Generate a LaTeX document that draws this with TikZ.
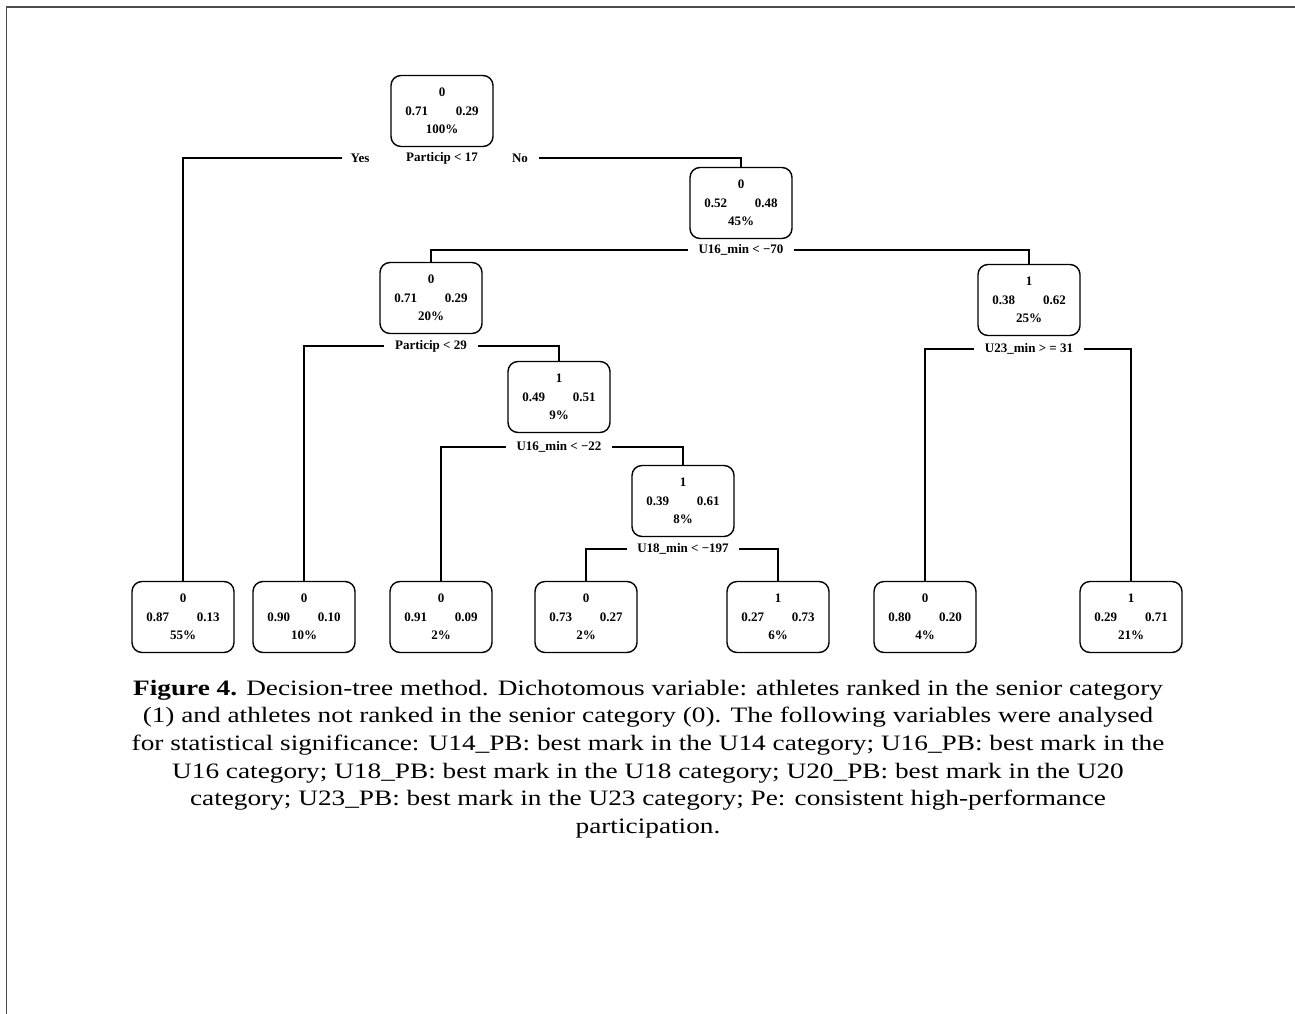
\documentclass[tikz,border=0pt]{standalone}
\usepackage{fontspec}
\setmainfont{Liberation Serif}
\newfontfamily\captionfont[FakeStretch=1.24]{Liberation Serif}
\usetikzlibrary{positioning}

\newcommand{\nodestats}[4]{#1\\#2\hspace{28pt}#3\\#4\%}

\begin{document}
\begin{tikzpicture}[x=1pt, y=-1pt, on grid, line width=1.4pt,
    box/.style={draw, rounded corners=10pt, minimum width=102pt, minimum height=71pt,
      inner sep=0pt, align=center, font=\fontsize{13}{18.5}\selectfont\bfseries},
    split/.style={inner xsep=10pt, inner ysep=2pt, font=\fontsize{13}{14}\selectfont\bfseries}]
    \useasboundingbox (0,0) rectangle (1295,1014);
    \draw[black!70, line width=1.5pt] (1295,7) -- (6.5,7) -- (6.5,1014);

    % inner nodes
    \node[box] (root) at (442,111) {\nodestats{0}{0.71}{0.29}{100}};
    \node[box, below right=92pt and 299pt of root] (n2) {\nodestats{0}{0.52}{0.48}{45}};
    \node[box, below left=95pt and 310pt of n2] (n3) {\nodestats{0}{0.71}{0.29}{20}};
    \node[box, below right=97pt and 288pt of n2] (n4) {\nodestats{1}{0.38}{0.62}{25}};
    \node[box, below right=99pt and 128pt of n3] (n5) {\nodestats{1}{0.49}{0.51}{9}};
    \node[box, below right=104pt and 124pt of n5] (n6) {\nodestats{1}{0.39}{0.61}{8}};

    % leaves
    \node[box] (l1) at (183,617) {\nodestats{0}{0.87}{0.13}{55}};
    \node[box, right=121pt of l1] (l2) {\nodestats{0}{0.90}{0.10}{10}};
    \node[box, right=137pt of l2] (l3) {\nodestats{0}{0.91}{0.09}{2}};
    \node[box, right=145pt of l3] (l4) {\nodestats{0}{0.73}{0.27}{2}};
    \node[box, right=192pt of l4] (l5) {\nodestats{1}{0.27}{0.73}{6}};
    \node[box, right=147pt of l5] (l6) {\nodestats{0}{0.80}{0.20}{4}};
    \node[box, right=206pt of l6] (l7) {\nodestats{1}{0.29}{0.71}{21}};

    % split labels
    \node[split, below=47pt of root] (s1) {Particip < 17};
    \node[split, left=82pt of s1, inner xsep=8pt] (yes) {Yes};
    \node[split, right=78pt of s1] (no) {No};
    \node[split, below=47pt of n2] (s2) {U16\_min < −70};
    \node[split, below=48pt of n3] (s3) {Particip < 29};
    \node[split, below=49pt of n4] (s4) {U23\_min > = 31};
    \node[split, below=50pt of n5] (s5) {U16\_min < −22};
    \node[split, below=48pt of n6] (s6) {U18\_min < −197};

    % branches
    \draw (l1.north) |- (yes.west);
    \draw (no.east) -| (n2.north);
    \draw (n3.north) |- (s2.west);
    \draw (s2.east) -| (n4.north);
    \draw (l2.north) |- (s3.west);
    \draw (s3.east) -| (n5.north);
    \draw (l3.north) |- (s5.west);
    \draw (s5.east) -| (n6.north);
    \draw (l4.north) |- (s6.west);
    \draw (s6.east) -| (l5.north);
    \draw (l6.north) |- (s4.west);
    \draw (s4.east) -| (l7.north);

    % caption
    \node[font=\captionfont\fontsize{22}{27.6}\selectfont, align=center] (caption) at (648,759)
      {\textbf{Figure 4.} Decision-tree method. Dichotomous variable: athletes ranked in the senior category\\
       (1) and athletes not ranked in the senior category (0). The following variables were analysed\\
       for statistical significance: U14\_PB: best mark in the U14 category; U16\_PB: best mark in the\\
       U16 category; U18\_PB: best mark in the U18 category; U20\_PB: best mark in the U20\\
       category; U23\_PB: best mark in the U23 category; Pe: consistent high-performance\\
       participation.};
\end{tikzpicture}
\end{document}
